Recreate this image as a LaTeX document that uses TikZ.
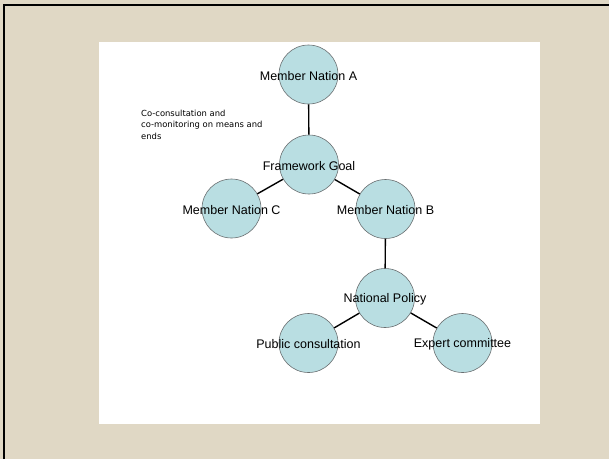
\documentclass[tikz,border=0pt]{standalone}
\usepackage{fontspec}
\setmainfont{Liberation Sans}
\newfontfamily\notefont{DejaVu Sans}
\definecolor{paper}{RGB}{224,216,197}
\definecolor{ballfill}{RGB}{185,222,226}
\definecolor{ballline}{RGB}{105,110,112}
\begin{document}
\begin{tikzpicture}[x=1pt,y=-1pt,
  ball/.style={circle,draw=ballline,line width=0.6pt,fill=ballfill,minimum size=59pt,inner sep=0pt},
  lbl/.style={font=\fontsize{12.5}{14}\selectfont,yshift=-1.5pt},
  link/.style={line width=1.4pt,black}]
\useasboundingbox (0,0) rectangle (609,459);
\fill[paper] (0,0) rectangle (609,459);
\draw[line width=2.5pt,black] (4,459) -- (4,5) -- (609,5);
\fill[white] (99,42) rectangle (540,424);
\node[ball,label={[lbl]center:Member Nation A}] (a) at (308.5,74.5) {};
\node[ball,label={[lbl]center:Framework Goal}] (g) at (309,164.5) {};
\node[ball,label={[lbl]center:Member Nation C}] (c) at (231.5,208.5) {};
\node[ball,label={[lbl]center:Member Nation B}] (b) at (385.5,209) {};
\node[ball,label={[lbl]center:National Policy}] (n) at (385,298) {};
\node[ball,label={[lbl]center:Public consultation}] (p) at (308.5,343) {};
\node[ball,label={[lbl]center:Expert committee}] (e) at (462.5,343) {};
\draw[link] (a) -- (g);
\draw[link] (g) -- (c);
\draw[link] (g) -- (b);
\draw[link] (b) -- (n);
\draw[link] (n) -- (p);
\draw[link] (n) -- (e);
\node[anchor=north west,align=left,inner sep=0pt,font=\notefont\fontsize{8.4}{11.3}\selectfont] (note) at (141,110) {Co-consultation and\\co-monitoring on means and\\ends};
\end{tikzpicture}
\end{document}
